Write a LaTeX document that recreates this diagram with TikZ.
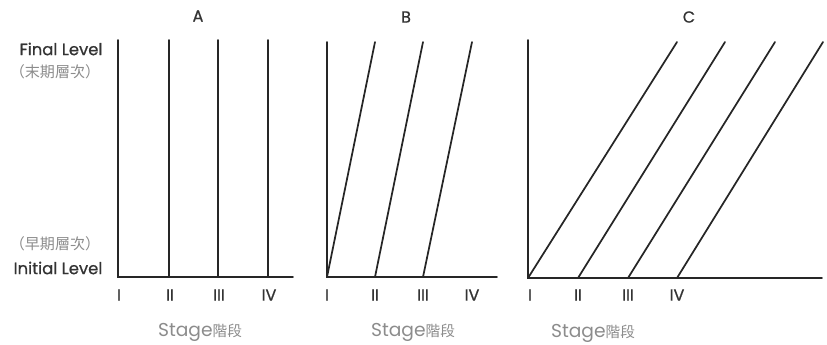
\documentclass[tikz,border=0pt]{standalone}
\usepackage{fontspec}
\setmainfont{Poppins}
\newfontfamily\medfont[FakeBold=0.8]{Poppins}
\newfontfamily\cjk{Noto Sans CJK TC}
\definecolor{ink}{HTML}{262626}
\definecolor{txt}{HTML}{333333}
\definecolor{soft}{HTML}{8C8C8C}
\tikzset{
  axisline/.style={draw=ink, line width=1.4pt, line cap=round, line join=miter},
  trend/.style={draw=ink, line width=1.3pt, line cap=round},
  lvl/.style={text=txt, font=\medfont\fontsize{12.3pt}{14pt}\selectfont, inner sep=0pt},
  cjklbl/.style={text=soft, font=\cjk\fontsize{11.3pt}{12pt}\selectfont, inner sep=0pt},
  numlbl/.style={text=txt, font=\medfont\fontsize{12pt}{13pt}\selectfont, inner sep=0pt},
  stagelbl/.style={text=soft, font=\fontsize{14pt}{15pt}\selectfont, inner sep=0pt},
  panellbl/.style={text=txt, font=\medfont\fontsize{12pt}{13pt}\selectfont, inner sep=0pt}
}
\begin{document}
\begin{tikzpicture}[x=0.75pt, y=-0.75pt]
\useasboundingbox (0,0) rectangle (827,344);
% left labels
\node[lvl] (final) at (61,49) {Final Level};
\node[cjklbl] (finalzh) at (55,72) {（末期層次）};
\node[cjklbl] (initzh) at (55,244) {（早期層次）};
\node[lvl] (init) at (58,268) {Initial Level};
% ---------- Panel A ----------
\node[panellbl] (lA) at (198,16) {A};
\coordinate (oA) at (118,277);
\coordinate (tA) at (118,40);
\coordinate (eA) at (293,277);
\draw[axisline] (tA) -- (oA) -- (eA);
\foreach \x/\n in {169/2,218/3,268/4}{
  \coordinate (aB\n) at (\x,277);
  \coordinate (aT\n) at (\x,40);
  \draw[trend] (aB\n) -- (aT\n);
}
\node[numlbl] (aI) at (119,295) {I};
\node[numlbl] (aII) at (170,295) {II};
\node[numlbl] (aIII) at (219,295) {III};
\node[numlbl] (aIV) at (269,295) {IV};
\node[stagelbl] (sA) at (200,332) {Stage{\cjk\fontsize{11pt}{12pt}\selectfont 階段}};
% ---------- Panel B ----------
\node[panellbl] (lB) at (406,17) {B};
\coordinate (oB) at (327,277);
\coordinate (tB) at (327,42);
\coordinate (eB) at (497,277);
\draw[axisline] (tB) -- (oB) -- (eB);
\foreach \a/\b/\n in {327/375/1,375/423/2,423/472/3}{
  \coordinate (bB\n) at (\a,277);
  \coordinate (bT\n) at (\b,42);
  \draw[trend] (bB\n) -- (bT\n);
}
\node[numlbl] (bI) at (327,295) {I};
\node[numlbl] (bII) at (375,295) {II};
\node[numlbl] (bIII) at (423,295) {III};
\node[numlbl] (bIV) at (472,295) {IV};
\node[stagelbl] (sB) at (413,332) {Stage{\cjk\fontsize{11pt}{12pt}\selectfont 階段}};
% ---------- Panel C ----------
\node[panellbl] (lC) at (689,17) {C};
\coordinate (oC) at (528,278);
\coordinate (tC) at (528,40);
\coordinate (eC) at (822,278);
\draw[axisline] (tC) -- (oC) -- (eC);
\foreach \a/\b/\n in {528/677/1,578/725/2,628/775/3,677/823/4}{
  \coordinate (cB\n) at (\a,278);
  \coordinate (cT\n) at (\b,42);
  \draw[trend] (cB\n) -- (cT\n);
}
\node[numlbl] (cI) at (530,295) {I};
\node[numlbl] (cII) at (578,295) {II};
\node[numlbl] (cIII) at (628,295) {III};
\node[numlbl] (cIV) at (677,295) {IV};
\node[stagelbl] (sC) at (593,333) {Stage{\cjk\fontsize{11pt}{12pt}\selectfont 階段}};
\end{tikzpicture}
\end{document}
